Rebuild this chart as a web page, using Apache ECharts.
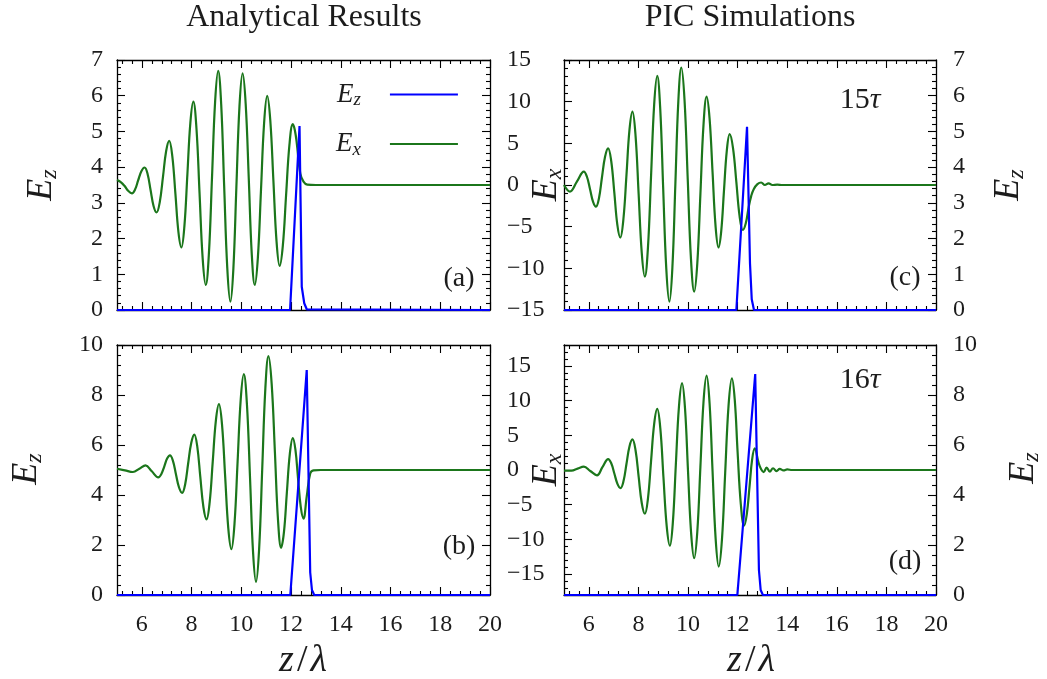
<!DOCTYPE html>
<html><head><meta charset="utf-8">
<script src="https://cdn.jsdelivr.net/npm/echarts@6/dist/echarts.min.js"></script>
<style>html,body{margin:0;padding:0;background:#fff}#chart{width:1047px;height:679px}</style>
</head><body><div id="chart"></div>
<script>
// ---------------- data (read / estimated from the reference) ----------------
const Z_RANGE = [5, 20];
const X_LABELS = [6, 8, 10, 12, 14, 16, 18, 20];
const EZ7_LABELS = [0, 1, 2, 3, 4, 5, 6, 7];
const EZ10_LABELS = [0, 2, 4, 6, 8, 10];
const EX_LABELS = [-15, -10, -5, 0, 5, 10, 15];

// (a) analytical, Ex (z/lambda, Ex) and Ez (z/lambda, Ez)
const A_EX = [[5.0,0.6],[5.15,0.35],[5.3,-0.1],[5.45,-0.7],[5.6,-1.0],[5.725,-0.55],[5.85,0.55],[5.98,1.65],[6.11,2.1],[6.23,1.32],[6.35,-0.6],[6.47,-2.52],[6.59,-3.3],[6.72,-2.05],[6.85,1.0],[6.975,4.05],[7.10,5.3],[7.225,3.44],[7.35,-1.1],[7.47,-5.64],[7.59,-7.5],[7.71,-4.96],[7.83,1.25],[7.95,7.46],[8.07,10.0],[8.195,6.81],[8.32,-1.0],[8.445,-8.81],[8.57,-12.0],[8.695,-8.27],[8.82,0.85],[8.945,9.97],[9.07,13.7],[9.19,9.68],[9.31,-0.15],[9.435,-9.98],[9.56,-14.0],[9.68,-10.03],[9.80,-0.3],[9.925,9.43],[10.05,13.4],[10.175,9.72],[10.30,0.7],[10.42,-8.32],[10.54,-12.0],[10.665,-8.71],[10.79,-0.65],[10.915,7.41],[11.04,10.7],[11.165,7.74],[11.29,0.5],[11.415,-6.74],[11.54,-9.7],[11.67,-7.24],[11.80,-1.2],[11.935,4.84],[12.07,7.3],[12.15,6.6],[12.23,5.0],[12.37,1.4],[12.5,0.4],[12.65,0.05],[13.0,0],[20,0]];
const A_EZ = [[5,0],[11.96,0],[12.34,5.15],[12.43,0.65],[12.53,0.19],[12.63,0.02],[20,0]];

// (b) analytical
const B_EX = [[5.0,0.18],[5.32,-0.05],[5.64,-0.29],[5.9,0.19],[6.15,0.67],[6.4,-0.19],[6.66,-1.05],[6.78,-0.6],[6.9,0.5],[7.015,1.64],[7.13,2.1],[7.25,1.32],[7.37,-0.6],[7.495,-2.52],[7.62,-3.3],[7.74,-2.08],[7.86,0.9],[7.985,3.88],[8.11,5.1],[8.23,3.33],[8.35,-1.0],[8.475,-5.33],[8.60,-7.1],[8.725,-4.69],[8.85,1.2],[8.975,7.09],[9.10,9.5],[9.225,6.47],[9.35,-0.95],[9.475,-8.37],[9.60,-11.4],[9.725,-7.75],[9.85,1.2],[9.975,10.15],[10.10,13.8],[10.225,9.46],[10.35,-1.15],[10.47,-11.76],[10.59,-16.1],[10.715,-11.39],[10.84,0.15],[10.965,11.69],[11.09,16.4],[11.22,12.4],[11.35,2.6],[11.475,-7.2],[11.60,-11.2],[11.715,-8.91],[11.83,-3.3],[11.95,2.31],[12.07,4.6],[12.175,2.92],[12.28,-1.2],[12.39,-5.32],[12.50,-7.0],[12.63,-3.8],[12.77,-0.5],[12.9,-0.05],[13.2,0],[20,0]];
const B_EZ = [[5,0],[11.97,0],[12.63,9.0],[12.77,0.9],[12.84,0.2],[12.93,0],[20,0]];

// (c) PIC, 15 tau
const C_EX = [[5.0,0.0],[5.24,-0.8],[5.52,0.4],[5.80,1.6],[5.925,0.99],[6.05,-0.5],[6.17,-1.99],[6.29,-2.6],[6.41,-1.59],[6.53,0.9],[6.655,3.39],[6.78,4.4],[6.905,2.85],[7.03,-0.95],[7.15,-4.75],[7.27,-6.3],[7.395,-4.11],[7.52,1.25],[7.64,6.61],[7.76,8.8],[7.885,5.93],[8.01,-1.1],[8.135,-8.13],[8.26,-11.0],[8.385,-7.51],[8.51,1.05],[8.635,9.61],[8.76,13.1],[8.88,9.17],[9.0,-0.45],[9.125,-10.07],[9.25,-14.0],[9.37,-9.93],[9.49,0.05],[9.61,10.03],[9.73,14.1],[9.86,10.2],[9.99,0.65],[10.12,-8.9],[10.25,-12.8],[10.375,-9.41],[10.50,-1.1],[10.625,7.21],[10.75,10.6],[10.87,7.98],[10.99,1.55],[11.11,-4.88],[11.23,-7.5],[11.34,-5.53],[11.45,-0.7],[11.565,4.13],[11.68,6.1],[11.815,4.43],[11.95,0.35],[12.08,-3.73],[12.21,-5.4],[12.33,-4.6],[12.45,-2.6],[12.55,-1.3],[12.65,-0.5],[12.8,0.1],[12.95,0.3],[13.1,0.0],[13.25,0.2],[13.4,0.0],[13.6,0.05],[13.8,0],[20,0]];
const C_EZ = [[5,0],[11.95,0],[12.38,5.13],[12.5,1.3],[12.57,0.3],[12.66,0],[20,0]];

// (d) PIC, 16 tau
const D_EX = [[5.0,-0.1],[5.3,-0.1],[5.55,0.2],[5.80,0.48],[6.06,-0.14],[6.33,-0.76],[6.55,0.4],[6.78,1.57],[6.905,0.97],[7.03,-0.5],[7.155,-1.99],[7.28,-2.6],[7.40,-1.59],[7.52,0.9],[7.64,3.39],[7.76,4.4],[7.885,2.85],[8.01,-0.95],[8.135,-4.75],[8.26,-6.3],[8.385,-4.11],[8.51,1.25],[8.635,6.61],[8.76,8.8],[8.885,5.95],[9.01,-1.05],[9.14,-8.04],[9.27,-10.9],[9.39,-7.51],[9.51,0.8],[9.635,9.11],[9.76,12.5],[9.88,8.85],[10.0,-0.1],[10.125,-9.05],[10.25,-12.7],[10.375,-8.89],[10.5,0.45],[10.625,9.79],[10.75,13.6],[10.87,9.61],[10.99,-0.15],[11.115,-9.91],[11.24,-13.9],[11.37,-9.97],[11.5,-0.35],[11.635,9.27],[11.77,13.2],[11.885,10.13],[12.0,2.6],[12.13,-4.93],[12.26,-8.0],[12.37,-6.39],[12.48,-2.45],[12.585,1.49],[12.69,3.1],[12.85,1.0],[12.95,0.1],[13.05,-0.3],[13.17,0.35],[13.3,-0.25],[13.43,0.25],[13.57,-0.15],[13.7,0.15],[13.85,-0.05],[14.0,0.08],[14.2,0],[20,0]];
const D_EZ = [[5,0],[11.99,0],[12.71,8.84],[12.86,1.0],[12.93,0.2],[13.02,0],[20,0]];

// ---------------- styling / layout ----------------
const FONT = '"Liberation Serif", "DejaVu Serif", serif';
const INK = '#1c1c1c';
const GREEN = '#1b761b';
const BLUE = '#0000ff';
const GRIDS = [
  {left:117, top:60,  width:373, height:250},
  {left:117, top:345, width:373, height:250},
  {left:564, top:60,  width:372, height:250},
  {left:564, top:345, width:372, height:250}
];

function steps(a, b, st) { const r = []; for (let k = 0; a + k * st <= b + 1e-9; k++) r.push(+(a + k * st).toFixed(3)); return r; }
function minus(list, major) { return list.filter(v => !major.some(m => Math.abs(m - v) < 1e-6)); }
const fmt = v => (v < 0 ? '\u2212' : '') + Math.abs(v);

const X_MAJOR = steps(6, 20, 2);
const X_MINOR = minus(steps(5.2, 19.6, 0.4), X_MAJOR);
const EZ7_MAJOR = steps(0, 7, 1), EZ7_MINOR = minus(steps(0, 7, 0.2), EZ7_MAJOR);
const EZ10_MAJOR = steps(0, 10, 2), EZ10_MINOR = minus(steps(0, 10, 0.4), EZ10_MAJOR);
const EX15_MAJOR = steps(-15, 15, 5), EX15_MINOR = minus(steps(-15, 15, 1), EX15_MAJOR);
const EX18_MINOR = minus(steps(-18, 18, 1), EX15_MAJOR);

const labelStyle = {fontFamily: FONT, fontSize: 24, color: INK};

function axis(g, pos, min, max, ticks, len, labels, line, extra) {
  return {
    type: 'value', gridIndex: g, position: pos, min: min, max: max,
    axisLine: {show: line, onZero: false, lineStyle: {color: '#000', width: 1.3}},
    axisTick: {show: true, inside: true, length: len, customValues: ticks, lineStyle: {color: '#000', width: 1.1}},
    axisLabel: labels ? Object.assign({show: true, customValues: labels, formatter: fmt}, labelStyle, extra || {}) : {show: false},
    splitLine: {show: false}, minorTick: {show: false}
  };
}

const xAxis = [], yAxis = [];
const XI = [];
GRIDS.forEach((gr, g) => {
  const bottomLabels = (g === 1 || g === 3) ? X_LABELS : null;
  XI.push(xAxis.length);
  xAxis.push(axis(g, 'bottom', Z_RANGE[0], Z_RANGE[1], X_MAJOR, 8, bottomLabels, true, {margin: 18}));
  xAxis.push(axis(g, 'bottom', Z_RANGE[0], Z_RANGE[1], X_MINOR, 4, null, false));
  xAxis.push(axis(g, 'top', Z_RANGE[0], Z_RANGE[1], X_MAJOR, 8, null, true));
  xAxis.push(axis(g, 'top', Z_RANGE[0], Z_RANGE[1], X_MINOR, 4, null, false));
});

function addY(cfg) { yAxis.push(cfg); return yAxis.length - 1; }
const hiddenY = (g, min, max) => ({type: 'value', gridIndex: g, min: min, max: max, show: false, position: 'right', axisLine: {onZero: false}});

// (a)
const yA_ez = addY(axis(0, 'left', 0, 7, EZ7_MAJOR, 8, EZ7_LABELS, true, {margin: 14}));
addY(axis(0, 'left', 0, 7, EZ7_MINOR, 4, null, false));
addY(axis(0, 'right', 0, 7, EZ7_MAJOR, 8, null, true));
addY(axis(0, 'right', 0, 7, EZ7_MINOR, 4, null, false));
const yA_ex = addY(hiddenY(0, -15, 15));
// (b)
const yB_ez = addY(axis(1, 'left', 0, 10, EZ10_MAJOR, 8, EZ10_LABELS, true, {margin: 14}));
addY(axis(1, 'left', 0, 10, EZ10_MINOR, 4, null, false));
addY(axis(1, 'right', 0, 10, EZ10_MAJOR, 8, null, true));
addY(axis(1, 'right', 0, 10, EZ10_MINOR, 4, null, false));
const yB_ex = addY(hiddenY(1, -18, 18));
// (c)
const yC_ex = addY(axis(2, 'left', -15, 15, EX15_MAJOR, 8, EX_LABELS, true, {margin: 57, align: 'left'}));
addY(axis(2, 'left', -15, 15, EX15_MINOR, 4, null, false));
const yC_ez = addY(axis(2, 'right', 0, 7, EZ7_MAJOR, 8, EZ7_LABELS, true, {margin: 17}));
addY(axis(2, 'right', 0, 7, EZ7_MINOR, 4, null, false));
// (d)
const yD_ex = addY(axis(3, 'left', -18, 18, EX15_MAJOR, 8, EX_LABELS, true, {margin: 57, align: 'left'}));
addY(axis(3, 'left', -18, 18, EX18_MINOR, 4, null, false));
const yD_ez = addY(axis(3, 'right', 0, 10, EZ10_MAJOR, 8, EZ10_LABELS, true, {margin: 17}));
addY(axis(3, 'right', 0, 10, EZ10_MINOR, 4, null, false));

function line(name, data, xi, yi, color, smooth) {
  return {type: 'line', name: name, data: data, xAxisIndex: xi, yAxisIndex: yi,
    showSymbol: false, symbol: 'none', smooth: smooth, clip: false,
    lineStyle: {color: color, width: 2.2}, itemStyle: {color: color},
    emphasis: {disabled: true}, silent: true, z: 3};
}
const series = [
  line('Ex', A_EX, XI[0], yA_ex, GREEN, 0.4),
  line('Ez', A_EZ, XI[0], yA_ez, BLUE, false),
  line('Ex', B_EX, XI[1], yB_ex, GREEN, 0.4),
  line('Ez', B_EZ, XI[1], yB_ez, BLUE, false),
  line('Ex', C_EX, XI[2], yC_ex, GREEN, 0.4),
  line('Ez', C_EZ, XI[2], yC_ez, BLUE, false),
  line('Ex', D_EX, XI[3], yD_ex, GREEN, 0.4),
  line('Ez', D_EZ, XI[3], yD_ez, BLUE, false)
];

function sub(size, subSize) {
  return {
    i: {fontFamily: FONT, fontStyle: 'italic', fontSize: size, lineHeight: size + 4, fill: INK, color: INK},
    s: {fontFamily: FONT, fontStyle: 'italic', fontSize: subSize, lineHeight: Math.round(size * 0.4), verticalAlign: 'bottom', fill: INK, color: INK},
    r: {fontFamily: FONT, fontSize: size, lineHeight: size + 4, fill: INK, color: INK, padding: [0, 3, 0, 3]}
  };
}
function txt(x, y, text, size, rich, rot) {
  const el = {type: 'text', x: x, y: y, silent: true,
    style: {text: text, fontFamily: FONT, fontSize: size, fill: INK, align: 'center', verticalAlign: 'middle'}};
  if (rich) el.style.rich = rich;
  if (rot) el.rotation = rot;
  return el;
}
const R90 = Math.PI / 2;
const graphic = [
  txt(304, 18, 'Analytical Results', 32),
  txt(750, 18, 'PIC Simulations', 32),
  txt(42, 185, '{i|E}{s|z}', 36, sub(36, 24), R90),
  txt(27, 469, '{i|E}{s|z}', 36, sub(36, 24), R90),
  txt(547, 185, '{i|E}{s|x}', 36, sub(36, 24), R90),
  txt(547, 470, '{i|E}{s|x}', 36, sub(36, 24), R90),
  txt(1009, 185, '{i|E}{s|z}', 36, sub(36, 24), R90),
  txt(1024, 468, '{i|E}{s|z}', 36, sub(36, 24), R90),
  txt(303, 661, '{i|z}{r|/}{i|λ}', 38, sub(38, 24)),
  txt(751, 661, '{i|z}{r|/}{i|λ}', 38, sub(38, 24)),
  txt(459, 279, '(a)', 28),
  txt(459, 547, '(b)', 28),
  txt(905, 278, '(c)', 28),
  txt(905, 562, '(d)', 28),
  txt(860, 100, '15{i|τ}', 30, sub(30, 20)),
  txt(860, 380, '16{i|τ}', 30, sub(30, 20))
];

const legendRich = {
  i: {fontFamily: FONT, fontStyle: 'italic', fontSize: 27, lineHeight: 30, color: INK},
  s: {fontFamily: FONT, fontStyle: 'italic', fontSize: 19, lineHeight: 12, verticalAlign: 'bottom', color: INK, padding: [0, 24, 0, 0]}
};

const option = {
  animation: false,
  backgroundColor: '#ffffff',
  grid: GRIDS.map(g => Object.assign({outerBoundsMode: 'none', containLabel: false}, g)),
  xAxis: xAxis,
  yAxis: yAxis,
  legend: {
    data: ['Ez', 'Ex'], orient: 'vertical', left: 331, top: 76, align: 'right',
    icon: 'rect', itemWidth: 68, itemHeight: 2, itemGap: 21, selectedMode: false,
    formatter: n => n === 'Ez' ? '{i|E}{s|z}' : '{i|E}{s|x}',
    textStyle: {rich: legendRich, color: INK}
  },
  graphic: graphic,
  series: series
};
const chart = echarts.init(document.getElementById('chart'), null, {renderer: 'canvas'});
chart.setOption(option);
</script>
</body></html>
